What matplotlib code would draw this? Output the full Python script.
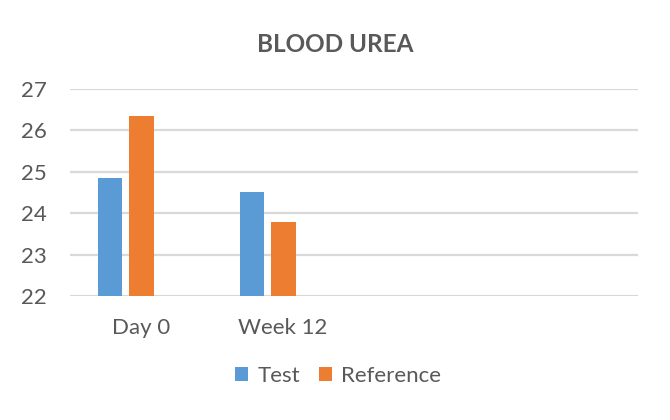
import matplotlib
matplotlib.use("Agg")
import matplotlib.pyplot as plt
from matplotlib.patches import Patch
import numpy as np

categories = ["Day 0", "Week 12", "", ""]
test_values = [24.85, 24.51]
reference_values = [26.34, 23.78]
series_names = ["Test", "Reference"]
yticks = [22, 23, 24, 25, 26, 27]

blue = "#5B9BD5"
orange = "#ED7D31"
text_c = "#595959"
grid_c = "#D9D9D9"

plt.rcParams['font.family'] = ['Lato', 'DejaVu Sans']

fig = plt.figure(figsize=(6.7, 4.2), dpi=100)
ax = fig.add_axes([70/670, 1 - 296/420, 568/670, (296 - 89)/420])

x = np.arange(len(categories))
pitch = 0.218
width = 0.175
ax.bar(x[:len(test_values)] - pitch, test_values, width, bottom=0, color=blue, zorder=3)
ax.bar(x[:len(reference_values)] + 0.004, reference_values, width, color=orange, zorder=3)

ax.set_xlim(-0.5, len(categories) - 0.5)
ax.set_ylim(22, 27)
ax.set_yticks(yticks)
ax.set_yticklabels([str(t) for t in yticks])
ax.set_xticks(x)
ax.set_xticklabels(categories)
ax.tick_params(axis='both', length=0, labelcolor=text_c, labelsize=16)
ax.tick_params(axis='y', pad=16.5)
ax.tick_params(axis='x', pad=15.5)
for s in ax.spines.values():
    s.set_visible(False)
ax.yaxis.grid(True, color=grid_c, linewidth=1.6, zorder=0)
ax.set_axisbelow(True)

fig.text(0.5, 1 - 44/420, "BLOOD UREA", ha='center', va='center',
         fontsize=17.5, fontweight='bold', color=text_c)

handles = [Patch(facecolor=blue, edgecolor='none'), Patch(facecolor=orange, edgecolor='none')]
fig.legend(handles, series_names, loc='center', bbox_to_anchor=(338/670, 1 - 376/420),
           ncol=2, frameon=False, fontsize=16, labelcolor=text_c,
           handlelength=0.6, handleheight=0.6, handletextpad=0.4, columnspacing=0.85)

fig.savefig("out.png", dpi=100, facecolor="white")
